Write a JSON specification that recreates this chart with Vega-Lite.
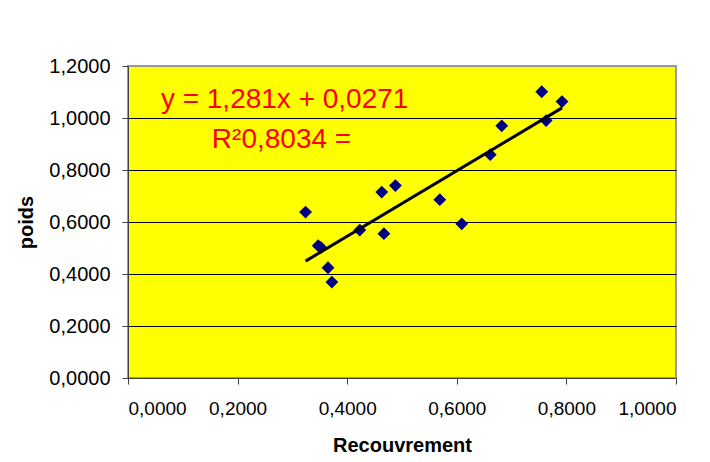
{
  "$schema": "https://vega.github.io/schema/vega-lite/v6.json",
  "width": 548,
  "height": 312,
  "autosize": "none",
  "padding": {"left": 128, "top": 66, "right": 34, "bottom": 84},
  "background": "white",
  "config": {
    "font": "Liberation Sans",
    "locale": {"number": {"decimal": ",", "thousands": " ", "grouping": [3], "currency": ["", " €"]}},
    "view": {"fill": "#FFFF00", "stroke": "#999999", "strokeWidth": 2}
  },
  "datasets": {
    "points": [
      {"Recouvrement": 0.324, "poids": 0.638},
      {"Recouvrement": 0.347, "poids": 0.509},
      {"Recouvrement": 0.352, "poids": 0.502},
      {"Recouvrement": 0.365, "poids": 0.424},
      {"Recouvrement": 0.372, "poids": 0.369},
      {"Recouvrement": 0.423, "poids": 0.569},
      {"Recouvrement": 0.463, "poids": 0.715},
      {"Recouvrement": 0.467, "poids": 0.555},
      {"Recouvrement": 0.488, "poids": 0.740},
      {"Recouvrement": 0.569, "poids": 0.686},
      {"Recouvrement": 0.609, "poids": 0.593},
      {"Recouvrement": 0.661, "poids": 0.859},
      {"Recouvrement": 0.682, "poids": 0.970},
      {"Recouvrement": 0.755, "poids": 1.101},
      {"Recouvrement": 0.763, "poids": 0.990},
      {"Recouvrement": 0.792, "poids": 1.063}
    ],
    "notes": [
      {"label": "y = 1,281x + 0,0271", "Recouvrement": 0.06, "poids": 1.038},
      {"label": "R²0,8034 =", "Recouvrement": 0.153, "poids": 0.885}
    ]
  },
  "layer": [
    {
      "data": {"name": "points"},
      "mark": {"type": "point", "shape": "diamond", "filled": true, "color": "#000080", "size": 165, "opacity": 1},
      "encoding": {
        "x": {
          "field": "Recouvrement", "type": "quantitative",
          "scale": {"domain": [0, 1], "nice": false, "zero": false},
          "axis": {
            "title": "Recouvrement", "values": [0, 0.2, 0.4, 0.6, 0.8, 1.0], "format": ".4f",
            "grid": false, "labelFontSize": 19, "labelColor": "black", "labelPadding": 15,
            "tickSize": 6, "tickColor": "#404040", "domainColor": "#404040",
            "titleFontSize": 20, "titleFontWeight": "bold", "titleColor": "black",
            "titleBaseline": "alphabetic", "titleY": 73
          }
        },
        "y": {
          "field": "poids", "type": "quantitative",
          "scale": {"domain": [0, 1.2], "nice": false, "zero": false},
          "axis": {
            "title": "poids", "values": [0, 0.2, 0.4, 0.6, 0.8, 1.0, 1.2], "format": ".4f",
            "grid": true, "gridColor": {"condition": {"test": "datum.value >= 1.19", "value": "#999999"}, "value": "black"},
            "gridOpacity": 1, "gridWidth": 1,
            "labelFontSize": 20, "labelColor": "black", "labelPadding": 12,
            "tickSize": 6, "tickColor": "#404040", "domainColor": "#404040",
            "titleFontSize": 20, "titleFontWeight": "bold", "titleColor": "black", "titlePadding": 12
          }
        }
      }
    },
    {
      "data": {"name": "points"},
      "transform": [{"regression": "poids", "on": "Recouvrement"}],
      "mark": {"type": "line", "color": "black", "strokeWidth": 3},
      "encoding": {
        "x": {"field": "Recouvrement", "type": "quantitative"},
        "y": {"field": "poids", "type": "quantitative"}
      }
    },
    {
      "data": {"name": "notes"},
      "mark": {"type": "text", "color": "#FF0000", "fontSize": 28, "align": "left", "baseline": "alphabetic"},
      "encoding": {
        "x": {"field": "Recouvrement", "type": "quantitative"},
        "y": {"field": "poids", "type": "quantitative"},
        "text": {"field": "label", "type": "nominal"}
      }
    }
  ]
}
